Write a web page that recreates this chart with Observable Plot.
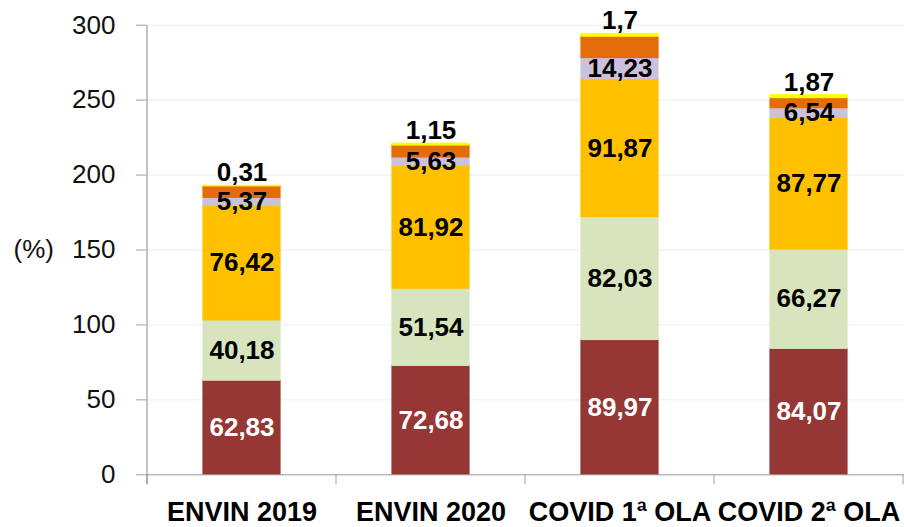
<!DOCTYPE html>
<html><head><meta charset="utf-8">
<script src="https://cdn.jsdelivr.net/npm/d3@7"></script>
<script src="https://cdn.jsdelivr.net/npm/@observablehq/plot@0.6"></script>
<style>body{margin:0;background:#fff}svg{overflow:visible}</style>
</head><body><div id="chart"></div>
<script>
const categories = ["ENVIN 2019", "ENVIN 2020", "COVID 1ª OLA", "COVID 2ª OLA"];
const seriesNames = ["Serie 1", "Serie 2", "Serie 3", "Serie 4", "Serie 5", "Serie 6"];
const serie1 = [62.83, 72.68, 89.97, 84.07];
const serie2 = [40.18, 51.54, 82.03, 66.27];
const serie3 = [76.42, 81.92, 91.87, 87.77];
const serie4 = [5.37, 5.63, 14.23, 6.54];
const serie5 = [7.7, 8.0, 14.3, 6.7]; // unlabelled segment, estimated
const serie6 = [0.31, 1.15, 1.7, 1.87];
const yTicks = [0, 50, 100, 150, 200, 250, 300];
const colors = ["#953735", "#d7e4bd", "#ffc000", "#ccc1da", "#e46c0a", "#ffff00"];

const allSeries = [serie1, serie2, serie3, serie4, serie5, serie6];
const rows = categories.flatMap((c, i) => allSeries.map((s, j) => ({category: c, series: seriesNames[j], value: s[i]})));
const fmt = v => String(v).replace(".", ",");
const font = "'Liberation Sans', Arial, sans-serif";

const plot = Plot.plot({
  width: 904, height: 527,
  marginLeft: 146, marginRight: 0, marginTop: 24.7, marginBottom: 52.7,
  style: {fontFamily: font, background: "white", color: "#000"},
  x: {domain: categories, paddingInner: 0.594, paddingOuter: 0.297, label: null},
  y: {domain: [0, 300], label: null},
  color: {domain: seriesNames, range: colors},
  marks: [
    Plot.gridY(yTicks, {stroke: "#ececec", strokeOpacity: 1}),
    Plot.barY(rows, {x: "category", y: "value", fill: "series", stroke: "series", strokeWidth: 1.2}),
    Plot.ruleY([0], {stroke: "#a0a0a0"}),
    Plot.axisY(yTicks, {tickSize: 10, tickPadding: 21, fontSize: 26, stroke: "#a0a0a0", fill: "#111", label: null}),
    Plot.axisX({tickSize: 0, tickPadding: 27, fontSize: 27, fontWeight: "bold", fill: "#000", label: null}),
    Plot.text(rows, Plot.stackY({x: "category", y: "value", z: "series",
      text: d => d.series === seriesNames[0] ? fmt(d.value) : null,
      fill: "white", fontSize: 26, fontWeight: "bold"})),
    Plot.text(rows, Plot.stackY({x: "category", y: "value", z: "series",
      text: d => [seriesNames[1], seriesNames[2], seriesNames[3]].includes(d.series) ? fmt(d.value) : null,
      fill: "black", fontSize: 26, fontWeight: "bold"})),
    Plot.text(rows, Plot.stackY2({x: "category", y: "value", z: "series",
      text: d => d.series === seriesNames[5] ? fmt(d.value) : null,
      fill: "black", fontSize: 26, fontWeight: "bold", dy: -13})),
    Plot.text(["(%)"], {frameAnchor: "left", text: d => d, dx: -133, textAnchor: "start", fontSize: 26, fill: "#111"})
  ]
});

document.getElementById("chart").appendChild(plot);

// axis decorations derived from the scales
const xs = plot.scale("x"), ys = plot.scale("y");
const svg = d3.select(plot);
const y0 = ys.apply(0), yTop = ys.apply(300);
const half = (xs.step - xs.bandwidth) / 2;
const bounds = categories.map(c => xs.apply(c) - half);
bounds.push(xs.apply(categories[categories.length - 1]) + xs.bandwidth + half);
const g = svg.append("g").attr("stroke", "#a0a0a0");
g.selectAll("line.xt").data(bounds).join("line")
  .attr("x1", d => d).attr("x2", d => d).attr("y1", y0).attr("y2", y0 + 10);
g.append("line").attr("x1", bounds[0]).attr("x2", bounds[0]).attr("y1", yTop).attr("y2", y0 + 10).attr("stroke", "#8a8a8a");
</script>
</body></html>
